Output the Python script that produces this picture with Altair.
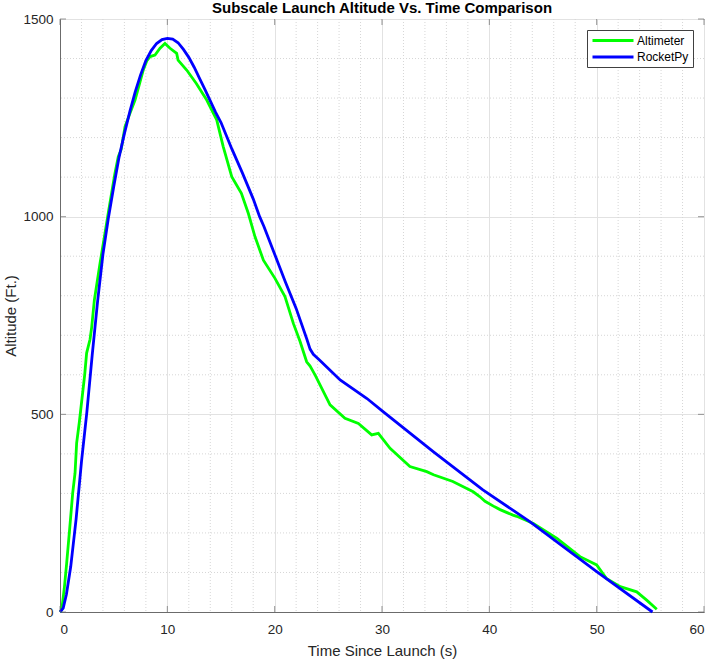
import altair as alt
import pandas as pd

# Altimeter flight record: time (s) and altitude (ft)
alt_t = [0.0, 0.16, 0.4, 0.62, 0.9, 1.18, 1.4, 1.55, 1.8, 2.05, 2.3, 2.48, 2.8, 2.95, 3.2,
         3.73, 4.19, 4.5, 5.12, 5.43, 5.7, 6.06, 6.5, 6.99, 7.4, 7.76, 8.1, 8.39, 8.85,
         9.32, 9.78, 10.25, 10.87, 11.0, 11.8, 12.7, 13.67, 14.6, 15.2, 16.0, 16.9,
         17.55, 18.17, 18.95, 20.03, 20.96, 21.74, 22.36, 22.98, 23.3, 23.76, 25.16,
         26.55, 27.8, 29.04, 29.66, 30.75, 32.6, 34.17, 34.8, 36.6, 38.5, 39.1, 39.6,
         40.5, 41.0, 42.2, 42.55, 44.1, 46.3, 48.45, 50.0, 50.9, 52.2, 53.73, 54.66, 55.6]
alt_h = [0, 5, 60, 123, 210, 300, 351, 427, 480, 540, 600, 655, 690, 720, 789,
         882, 958, 1010, 1110, 1152, 1170, 1228, 1260, 1295, 1335, 1371, 1395, 1405, 1409,
         1426, 1438, 1426, 1413, 1396, 1371, 1337, 1295, 1245, 1178, 1101, 1059,
         1008, 949, 890, 844, 798, 730, 685, 633, 622, 600, 524,
         490, 477, 448, 452, 414, 368, 355, 347, 330, 304, 292, 280,
         266, 259, 245, 242, 224, 186, 140, 119, 85, 64, 51, 30, 7]

# RocketPy simulation: time (s) and altitude (ft)
sim_t = [0.0, 0.3, 0.6, 1.0, 1.5, 2.0, 2.5, 3.0, 3.5, 4.0, 4.5, 5.0, 5.5, 6.0, 6.5, 7.0,
         7.5, 8.0, 8.5, 9.0, 9.5, 10.0, 10.5, 11.0, 11.5, 12.0, 12.5, 13.0, 13.5, 14.0,
         14.5, 15.0, 16.0, 17.0, 18.0, 18.6, 19.0, 20.0, 21.0, 22.0, 23.0, 23.3, 23.6,
         24.2, 24.85, 26.1, 28.6, 30.1, 34.8, 39.4, 43.8, 50.0, 55.2]
sim_h = [0, 10, 45, 115, 235, 380, 505, 650, 785, 905, 995, 1075, 1150, 1210, 1265, 1315,
         1358, 1395, 1420, 1438, 1448, 1451, 1449, 1440, 1423, 1403, 1378, 1350, 1322, 1293,
         1264, 1238, 1172, 1110, 1045, 1000, 975, 905, 835, 768, 690, 665, 652,
         637, 620, 587, 540, 507, 405, 309, 228, 102, 0]

series_names = ["Altimeter", "RocketPy"]
series_colors = ["#00ff00", "#0000ff"]

x_major = [0, 10, 20, 30, 40, 50, 60]
y_major = [0, 500, 1000, 1500]
x_minor = [v for v in range(2, 60, 2) if v % 10]
y_minor = [v for v in range(100, 1500, 100) if v % 500]

lines = pd.concat([
    pd.DataFrame({"t": alt_t, "h": alt_h, "series": "Altimeter"}),
    pd.DataFrame({"t": sim_t, "h": sim_h, "series": "RocketPy"}),
])

FONT = "Liberation Sans"
AXIS_GREY = "#6b6b6b"
TEXT = "#262626"

xscale = alt.Scale(domain=[0, 60], nice=False, zero=False)
yscale = alt.Scale(domain=[0, 1500], nice=False, zero=False)

# one shared axis definition per channel, reused by every layer
axis_style = dict(grid=True, gridColor="#e2e2e2", ticks=False, format="d",
                  labelFont=FONT, titleFont=FONT, labelFontSize=13.5, titleFontSize=15,
                  labelColor=TEXT, titleColor=TEXT, titleFontWeight="normal",
                  domainColor=AXIS_GREY, domainWidth=1)
ax_x = alt.Axis(values=x_major, title="Time Since Launch (s)", labelPadding=10,
                titlePadding=8, **axis_style)
ax_y = alt.Axis(values=y_major, title="Altitude (Ft.)", labelPadding=7,
                titlePadding=4, **axis_style)

# dotted minor grid
minor_x = alt.Chart(pd.DataFrame({"v": x_minor})).mark_rule(
    color="#d6d6d6", strokeDash=[1, 2], strokeWidth=1
).encode(x=alt.X("v:Q", scale=xscale, axis=ax_x))
minor_y = alt.Chart(pd.DataFrame({"v": y_minor})).mark_rule(
    color="#d6d6d6", strokeDash=[1, 2], strokeWidth=1
).encode(y=alt.Y("v:Q", scale=yscale, axis=ax_y))

curves = alt.Chart(lines).mark_line(strokeWidth=2.8, interpolate="linear").encode(
    x=alt.X("t:Q", scale=xscale, axis=ax_x),
    y=alt.Y("h:Q", scale=yscale, axis=ax_y),
    color=alt.Color("series:N", scale=alt.Scale(domain=series_names, range=series_colors),
                    legend=alt.Legend(
                        title=None, orient="none", legendX=527, legendY=11,
                        symbolType="M-1,0H7.2", symbolSize=100, symbolStrokeWidth=3,
                        labelFont=FONT, labelFontSize=12, labelColor="#000000",
                        labelOffset=33, strokeColor="#404040", fillColor="white",
                        padding=4, rowPadding=3.5, offset=0)),
    order=alt.Order("series:N"),
)

# inward tick marks on all four sides
tk = dict(color=AXIS_GREY, thickness=1, size=6)
xt = pd.DataFrame({"v": x_major})
yt = pd.DataFrame({"v": y_major})
ticks_bottom = alt.Chart(xt).mark_tick(orient="vertical", yOffset=-3, **tk).encode(
    x=alt.X("v:Q", scale=xscale, axis=ax_x), y=alt.datum(0, scale=yscale, axis=ax_y))
ticks_top = alt.Chart(xt).mark_tick(orient="vertical", yOffset=3, **tk).encode(
    x=alt.X("v:Q", scale=xscale, axis=ax_x), y=alt.datum(1500, scale=yscale, axis=ax_y))
ticks_left = alt.Chart(yt).mark_tick(orient="horizontal", xOffset=3, **tk).encode(
    y=alt.Y("v:Q", scale=yscale, axis=ax_y), x=alt.datum(0, scale=xscale, axis=ax_x))
ticks_right = alt.Chart(yt).mark_tick(orient="horizontal", xOffset=-3, **tk).encode(
    y=alt.Y("v:Q", scale=yscale, axis=ax_y), x=alt.datum(60, scale=xscale, axis=ax_x))

chart = alt.layer(
    minor_x, minor_y, curves, ticks_bottom, ticks_top, ticks_left, ticks_right
).properties(
    width=644, height=593,
    title=alt.Title("Subscale Launch Altitude Vs. Time Comparison", font=FONT,
                    fontSize=15, fontWeight="bold", color="#000000", offset=4,
                    anchor="middle", frame="group", dy=8),
    autosize=alt.AutoSizeParams(type="none"),
    padding={"left": 60, "top": 19, "right": 10, "bottom": 49},
    background="white",
).configure_view(
    stroke=AXIS_GREY, strokeWidth=1
)

chart.save("out.html", embed_options={"renderer": "svg", "actions": False})
